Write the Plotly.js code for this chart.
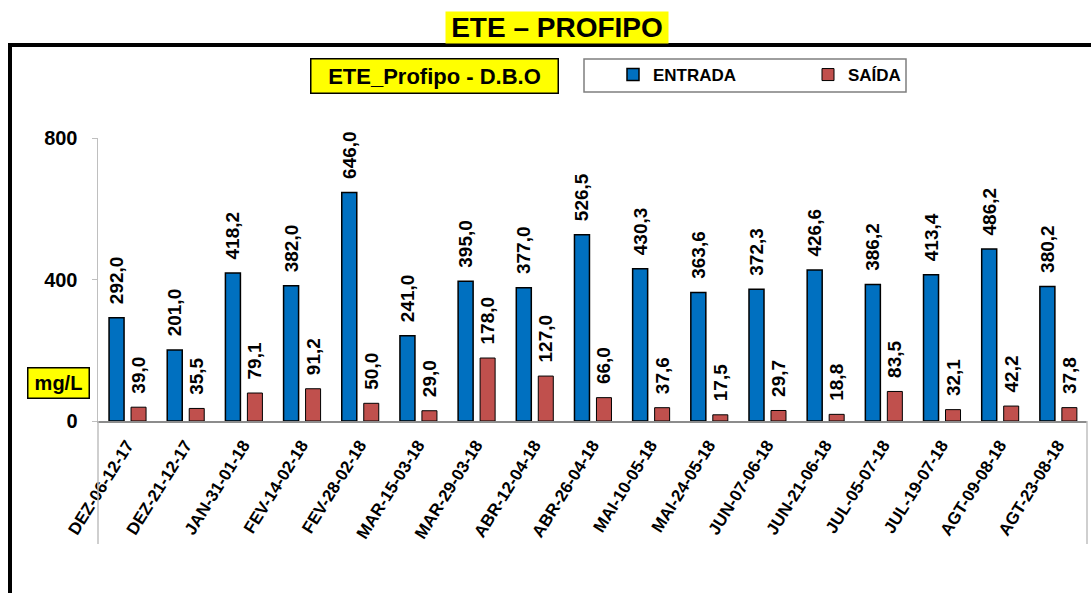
<!DOCTYPE html>
<html>
<head>
<meta charset="utf-8">
<script src="https://cdn.plot.ly/plotly-3.0.1.min.js"></script>
<style>
  html, body { margin: 0; padding: 0; background: #fff; }
  #chart { width: 1091px; height: 593px; }
</style>
</head>
<body>
<div id="chart"></div>
<script>
// sampling dates
const datas = [
  'DEZ-06-12-17', 'DEZ-21-12-17', 'JAN-31-01-18', 'FEV-14-02-18', 'FEV-28-02-18',
  'MAR-15-03-18', 'MAR-29-03-18', 'ABR-12-04-18', 'ABR-26-04-18', 'MAI-10-05-18',
  'MAI-24-05-18', 'JUN-07-06-18', 'JUN-21-06-18', 'JUL-05-07-18', 'JUL-19-07-18',
  'AGT-09-08-18', 'AGT-23-08-18'
];

// D.B.O (mg/L)
const entrada = [292.0, 201.0, 418.2, 382.0, 646.0, 241.0, 395.0, 377.0, 526.5,
  430.3, 363.6, 372.3, 426.6, 386.2, 413.4, 486.2, 380.2];
const saida = [39.0, 35.5, 79.1, 91.2, 50.0, 29.0, 178.0, 127.0, 66.0,
  37.6, 17.5, 29.7, 18.8, 83.5, 32.1, 42.2, 37.8];

const yTicks = [0, 400, 800];

const FONT = 'Liberation Sans, Arial, sans-serif';

// pixel -> paper helpers (plot area 98..1087 x 138..421)
const L = 98, R = 1087, T = 138, B = 421;
const px = x => (x - L) / (R - L);
const py = y => (B - y) / (B - T);

// comma decimals, with a little gap between bar and label
function fmt(v) {
  return '\u00a0\u00a0' + v.toFixed(1).replace('.', ',');
}

const labelFont = { family: FONT, size: 19, color: '#000', weight: 'bold' };

const traces = [
  {
    x: datas,
    y: entrada,
    type: 'bar',
    name: 'ENTRADA',
    width: 0.258,
    offset: -0.31,
    marker: { color: '#0070C0', line: { color: '#000', width: 1.5 } },
    text: entrada.map(fmt),
    textposition: 'outside',
    textangle: -90,
    constraintext: 'none',
    cliponaxis: false,
    textfont: labelFont,
    hoverinfo: 'none'
  },
  {
    x: datas,
    y: saida,
    type: 'bar',
    name: 'SAÍDA',
    width: 0.258,
    offset: 0.068,
    marker: { color: '#C0504D', line: { color: '#000', width: 1 } },
    text: saida.map(fmt),
    textposition: 'outside',
    textangle: -90,
    constraintext: 'none',
    cliponaxis: false,
    textfont: labelFont,
    hoverinfo: 'none'
  }
];

const layout = {
  width: 1091,
  height: 593,
  margin: { l: L, r: 1091 - R, t: T, b: 593 - B, pad: 0 },
  paper_bgcolor: '#fff',
  plot_bgcolor: '#fff',
  barmode: 'overlay',
  font: { family: FONT, color: '#000' },
  xaxis: {
    type: 'category',
    showgrid: false,
    showline: true,
    linecolor: '#8c8c8c',
    linewidth: 1.5,
    ticks: '',
    tickangle: -58,
    ticklabelstandoff: 6,
    tickfont: { family: FONT, size: 17, color: '#000', weight: 'bold' },
    range: [-0.5, datas.length - 0.5]
  },
  yaxis: {
    range: [0, 800],
    tickvals: yTicks,
    ticktext: yTicks.map(String),
    showgrid: false,
    zeroline: false,
    showline: true,
    linecolor: '#bfbfbf',
    linewidth: 1.5,
    ticks: 'outside',
    ticklen: 5,
    tickcolor: '#bfbfbf',
    ticklabelstandoff: 10,
    tickfont: { family: FONT, size: 20, color: '#000', weight: 'bold' }
  },
  showlegend: true,
  legend: {
    orientation: 'h',
    x: px(613),
    y: py(75),
    xanchor: 'left',
    yanchor: 'middle',
    bgcolor: 'rgba(0,0,0,0)',
    borderwidth: 0,
    entrywidth: 150,
    entrywidthmode: 'pixels',
    font: { family: FONT, size: 17, color: '#000', weight: 'bold' }
  },
  shapes: [
    // outer frame
    { type: 'line', xref: 'paper', yref: 'paper', x0: px(8), x1: px(1091), y0: py(45), y1: py(45),
      line: { color: '#000', width: 4 } },
    { type: 'line', xref: 'paper', yref: 'paper', x0: px(10), x1: px(10), y0: py(45), y1: py(593),
      line: { color: '#000', width: 4 } },
    // title underline
    { type: 'line', xref: 'paper', yref: 'paper', x0: px(446), x1: px(668), y0: py(41.5), y1: py(41.5),
      line: { color: '#000', width: 2.5 } },
    // legend box
    { type: 'rect', xref: 'paper', yref: 'paper', x0: px(584), x1: px(906), y0: py(59), y1: py(92),
      line: { color: '#7f7f7f', width: 1.5 }, fillcolor: 'rgba(0,0,0,0)' },
    // axis extensions below the plot
    { type: 'line', xref: 'paper', yref: 'paper', x0: 0, x1: 0, y0: 0, y1: py(544),
      line: { color: '#bfbfbf', width: 1.5 } },
    { type: 'line', xref: 'paper', yref: 'paper', x0: 1, x1: 1, y0: 0, y1: py(544),
      line: { color: '#bfbfbf', width: 1.5 } }
  ],
  annotations: [
    {
      xref: 'paper', yref: 'paper', x: px(557), y: py(27.5),
      xanchor: 'center', yanchor: 'middle', showarrow: false,
      text: '<b>ETE – PROFIPO</b>',
      font: { family: FONT, size: 28, color: '#000' },
      bgcolor: '#FFFF00', borderpad: 1, height: 29, width: 220
    },
    {
      xref: 'paper', yref: 'paper', x: px(434), y: py(75.5),
      xanchor: 'center', yanchor: 'middle', showarrow: false,
      text: '<b>ETE_Profipo - D.B.O</b>',
      font: { family: FONT, size: 22, color: '#000' },
      bgcolor: '#FFFF00', bordercolor: '#000', borderwidth: 1.5, borderpad: 2,
      width: 242, height: 29
    },
    {
      xref: 'paper', yref: 'paper', x: px(58.5), y: py(383),
      xanchor: 'center', yanchor: 'middle', showarrow: false,
      text: '<b>mg/L</b>',
      font: { family: FONT, size: 20, color: '#000' },
      bgcolor: '#FFFF00', bordercolor: '#000', borderwidth: 1.5, borderpad: 2,
      width: 56, height: 25
    }
  ]
};

const config = {
  responsive: false,
  displayModeBar: false,
  staticPlot: true
};

Plotly.newPlot('chart', traces, layout, config);
</script>
</body>
</html>
